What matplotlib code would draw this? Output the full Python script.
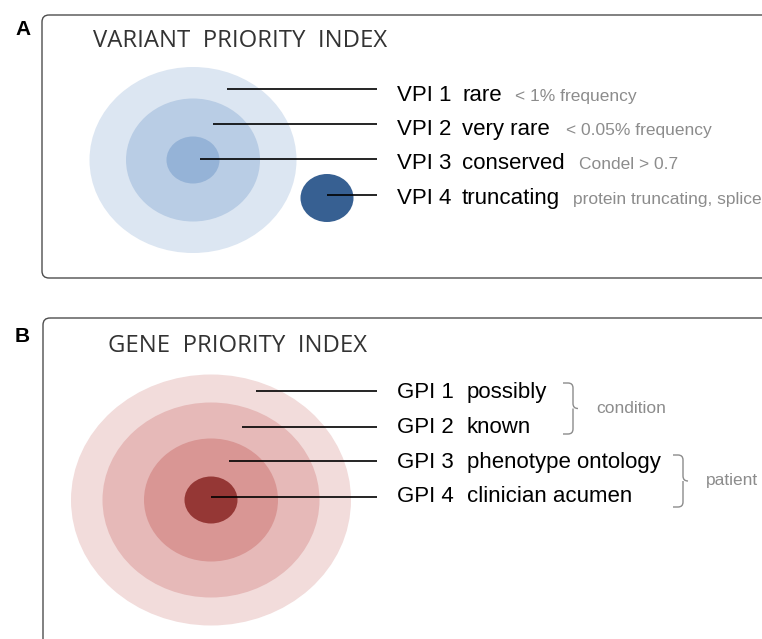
# Variant / gene priority index diagram
import matplotlib
matplotlib.use('Agg')
import matplotlib.pyplot as plt
from matplotlib.patches import Ellipse, FancyBboxPatch, PathPatch
from matplotlib.path import Path

# Panel A data
vpi_codes = ['VPI 1', 'VPI 2', 'VPI 3', 'VPI 4']
vpi_words = ['rare', 'very rare', 'conserved', 'truncating']
vpi_notes = ['< 1% frequency', '< 0.05% frequency', 'Condel > 0.7',
             'protein truncating, splice']
vpi_colors = ['#dce6f2', '#b9cde5', '#95b3d7', '#376092']

# Panel B data
gpi_codes = ['GPI 1', 'GPI 2', 'GPI 3', 'GPI 4']
gpi_words = ['possibly', 'known', 'phenotype ontology', 'clinician acumen']
gpi_groups = ['condition', 'patient']
gpi_colors = ['#f2dcdb', '#e6b9b8', '#d99694', '#953735']

W, H = 762, 639
fig = plt.figure(figsize=(W / 100, H / 100), dpi=100)
ax = fig.add_axes([0, 0, 1, 1])
ax.set_xlim(0, W)
ax.set_ylim(H, 0)
ax.axis('off')

MAIN = dict(family='Liberation Sans', fontsize=16, color='black')
GREY = dict(family='Liberation Sans', fontsize=12.5, color='#8c8c8c')
TITLE = dict(family='Open Sans', fontsize=17.2, color='#333333')
LABEL = dict(family='Liberation Sans', weight='bold', fontsize=15, color='black')


def panel_box(x, y, h):
    box = FancyBboxPatch((x, y), 900, h, boxstyle='round,pad=0,rounding_size=7',
                         fc='none', ec='#4d4d4d', lw=1.0)
    ax.add_patch(box)


def brace(x0, top, bottom, r=5):
    mid = (top + bottom) / 2
    x1 = x0 + 2 * r
    verts = [(x0, top), (x1 - r, top), (x1, top), (x1, top + r),
             (x1, mid - r), (x1, mid), (x1 + r, mid),
             (x1, mid), (x1, mid + r),
             (x1, bottom - r), (x1, bottom), (x1 - r, bottom), (x0, bottom)]
    codes = [Path.MOVETO, Path.LINETO, Path.CURVE3, Path.CURVE3,
             Path.LINETO, Path.CURVE3, Path.CURVE3,
             Path.MOVETO, Path.LINETO,
             Path.LINETO, Path.CURVE3, Path.CURVE3, Path.LINETO]
    ax.add_patch(PathPatch(Path(verts, codes), fc='none', ec='#8c8c8c', lw=1.0))
    return x1 + r, mid


# ---- Panel A ----
panel_box(42, 15, 263)
ax.text(15, 35, 'A', **LABEL)
ax.text(93, 47, 'VARIANT  PRIORITY  INDEX', **TITLE)

ring_w = [207, 134, 53]
ring_h = [186, 123, 47]
for i in range(3):
    ax.add_patch(Ellipse((193, 160), ring_w[i], ring_h[i], fc=vpi_colors[i], ec='none'))
ax.add_patch(Ellipse((327, 198), 53, 48, fc=vpi_colors[3], ec='none'))

line_y = [89, 124, 159, 195]
line_x0 = [227, 213, 200, 327]
base_y = [101, 135, 169, 204]
note_x = [515, 566, 579, 573]
for i in range(4):
    ax.plot([line_x0[i], 377], [line_y[i]] * 2, color='black', lw=1.2,
            solid_capstyle='butt')
    ax.text(397, base_y[i], vpi_codes[i], va='baseline', **MAIN)
    ax.text(462, base_y[i], vpi_words[i], va='baseline', **MAIN)
    ax.text(note_x[i], base_y[i], vpi_notes[i], va='baseline', **GREY)

# ---- Panel B ----
panel_box(43, 318, 400)
ax.text(15, 342, 'B', **LABEL)
ax.text(108, 352, 'GENE  PRIORITY  INDEX', **TITLE)

ring_w = [280, 217, 134, 53]
ring_h = [251, 195, 123, 47]
for i in range(4):
    ax.add_patch(Ellipse((211, 500), ring_w[i], ring_h[i], fc=gpi_colors[i], ec='none'))

line_y = [391, 427, 461, 497]
line_x0 = [256, 242, 229, 211]
base_y = [398, 433, 468, 502]
for i in range(4):
    ax.plot([line_x0[i], 377], [line_y[i]] * 2, color='black', lw=1.2,
            solid_capstyle='butt')
    ax.text(397, base_y[i], gpi_codes[i], va='baseline', **MAIN)
    ax.text(467, base_y[i], gpi_words[i], va='baseline', **MAIN)

bx, by = brace(563, 383, 434)
ax.text(bx + 18, by, gpi_groups[0], va='center', **GREY)
bx, by = brace(673, 455, 507)
ax.text(bx + 18, by, gpi_groups[1], va='center', **GREY)

fig.savefig('out.png', dpi=100)
